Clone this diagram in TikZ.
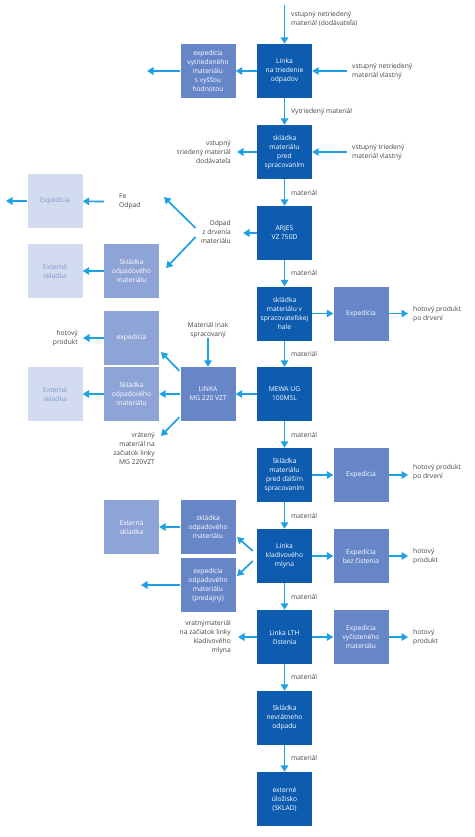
\documentclass[tikz,border=0pt]{standalone}
\usepackage{fontspec}
\setmainfont{Open Sans}
\usetikzlibrary{arrows.meta}
\definecolor{cdark}{RGB}{14,92,176}
\definecolor{cmed}{RGB}{103,134,200}
\definecolor{clight}{RGB}{142,163,214}
\definecolor{cpale}{RGB}{210,219,239}
\definecolor{cpaletext}{RGB}{128,152,205}
\definecolor{carrow}{RGB}{30,160,228}
\definecolor{clbl}{RGB}{70,70,70}
\newcommand{\dfont}{\fontsize{6.7}{9}\selectfont}
\begin{document}
\begin{tikzpicture}[x=1pt,y=-1pt,
  box/.style={rectangle, minimum width=55pt, minimum height=54pt, inner sep=1pt, align=center, font=\dfont},
  dark/.style={box, fill=cdark, text=white},
  med/.style={box, fill=cmed, text=white},
  light/.style={box, fill=clight, text=white},
  pale/.style={box, fill=cpale, text=cpaletext},
  lbl/.style={font=\dfont, text=clbl, inner sep=0pt, align=left},
  lblr/.style={lbl, align=right},
  lblc/.style={lbl, align=center},
  arr/.style={draw=carrow, line width=1.7pt, -{Triangle[length=6.5pt,width=7.5pt]}}]
\useasboundingbox (0,0) rectangle (474,837);
% main column
\node[dark] (lt) at (284.5,71) {Linka\\na triedenie\\odpadov};
\node[dark] (sk1) at (284.5,152) {skládka\\materiálu\\pred\\spracovaním};
\node[dark] (arj) at (284.5,233) {ARJES\\VZ 750D};
\node[dark] (skh) at (284.5,313.5) {skládka\\materiálu v\\spracovateľskej\\hale};
\node[dark] (mewa) at (284.5,394) {MEWA UG\\100MSL};
\node[dark] (skd) at (284.5,475) {Skládka\\materiálu\\pred ďalším\\spracovaním};
\node[dark] (lkm) at (284.5,556) {Linka\\kladivového\\mlyna};
\node[dark] (lth) at (284.5,637) {Linka LTH\\čistenia};
\node[dark] (snv) at (284.5,718) {Skládka\\nevrátneho\\odpadu};
\node[dark] (ext) at (284.5,799) {externé\\úložisko\\(SKLAD)};
% side boxes
\node[med] (exv) at (208,71) {expedícia\\vytriedeného\\materiálu\\s vyššou\\hodnotou};
\node[pale] (expA) at (55,201) {Expedícia};
\node[pale] (extA3) at (55,271) {Externá\\skladka};
\node[light] (skB3) at (131.5,271) {Skládka\\odpadového\\materiálu};
\node[med] (expE4) at (361,313.5) {Expedícia};
\node[light] (expB4) at (131.5,338) {expedícia};
\node[med] (lmg) at (208,394) {LINKA\\MG 220 VZT};
\node[light] (skB5) at (131.5,394) {Skládka\\odpadového\\materiálu};
\node[pale] (extA5) at (55,394) {Externá\\skladka};
\node[med] (expE6) at (361,475) {Expedícia};
\node[light] (extB7) at (131.5,527) {Externá\\skladka};
\node[med] (skC7) at (208,527) {skládka\\odpadového\\materiálu};
\node[med] (expC8) at (208,585) {expedícia\\odpadového\\materiálu\\(predajný)};
\node[med] (ebc) at (361,556) {Expedícia\\bez čistenia};
\node[med] (evm) at (361,637) {Expedícia\\vyčisteného\\materiálu};
% labels
\node[lbl, anchor=west] (l0) at (291,18.5) {vstupný netriedený\\materiál (dodávateľa)};
\node[lbl, anchor=west] (l1) at (352,71) {vstupný netriedený\\materiál vlastný};
\node[lbl, anchor=west] (m1) at (291,112) {Vytriedený materiál};
\node[lblr, anchor=east] (l2) at (231,152) {vstupný\\triedený materiál\\dodávateľa};
\node[lbl, anchor=west] (l3) at (352,152) {vstupný triedený\\materiál vlastný};
\node[lbl, anchor=west] (m2) at (291,193) {materiál};
\node[lblr, anchor=east] (odp) at (231,232) {Odpad\\z drvenia\\materiálu};
\node[lbl, anchor=west] (fe) at (119,201.5) {Fe\\Odpad};
\node[lbl, anchor=west] (m3) at (291,273) {materiál};
\node[lbl, anchor=west] (hp4) at (413,314) {hotový produkt\\po drvení};
\node[lblr, anchor=east] (hpB) at (78,338.5) {hotový\\produkt};
\node[lblc] (inak) at (208,330) {Materiál inak\\spracovaný};
\node[lbl, anchor=west] (m4) at (291,354) {materiál};
\node[lblr, anchor=north east] (vrt) at (155,432) {vrátený\\materiál na\\začiatok linky\\MG 220VZT};
\node[lbl, anchor=west] (m5) at (291,435) {materiál};
\node[lbl, anchor=west] (hp6) at (413,472.5) {hotový produkt\\po drvení};
\node[lbl, anchor=west] (m6) at (291,516) {materiál};
\node[lbl, anchor=west] (hp7) at (413,556.5) {hotový\\produkt};
\node[lbl, anchor=west] (m7) at (291,597) {materiál};
\node[lblr, anchor=east] (vrk) at (231,637) {vratnýmateriál\\na začiatok linky\\kladivového\\mlyna};
\node[lbl, anchor=west] (hp8) at (413,637.5) {hotový\\produkt};
\node[lbl, anchor=west] (m8) at (291,677) {materiál};
\node[lbl, anchor=west] (m9) at (291,758) {materiál};
% free ends
\coordinate (top) at (284.5,5);
\coordinate (fexv) at (147,71);
\coordinate (fexpA) at (6,201);
\coordinate (fd1) at (164,197);
\coordinate (fd2) at (166,268);
\coordinate (fl1) at (161,352);
\coordinate (fl2) at (161,436);
\coordinate (fk1) at (237,537);
\coordinate (fk2) at (237,576);
\coordinate (fexC8) at (141,585);
% main arrows
\draw[arr] (top) -- (lt);
\draw[arr] (lt) -- (sk1);
\draw[arr] (sk1) -- (arj);
\draw[arr] (arj) -- (skh);
\draw[arr] (skh) -- (mewa);
\draw[arr] (mewa) -- (skd);
\draw[arr] (skd) -- (lkm);
\draw[arr] (lkm) -- (lth);
\draw[arr] (lth) -- (snv);
\draw[arr] (snv) -- (ext);
% side arrows
\draw[arr] (lt) -- (exv);
\draw[arr] (exv) -- (fexv);
\draw[arr] ([xshift=-5pt]l1.west) -- (lt);
\draw[arr] (sk1) -- ([xshift=6pt]l2.east |- sk1);
\draw[arr] ([xshift=-5pt]l3.west |- sk1) -- (sk1);
\draw[arr] (arj) -- ([xshift=12pt]odp.east |- arj);
\draw[arr] ([shift={(-5pt,4pt)}]odp.west) -- (fd1);
\draw[arr] ([shift={(-5pt,-5pt)}]odp.west) -- (fd2);
\draw[arr] ([xshift=-15pt]fe.west) -- (expA);
\draw[arr] (expA) -- (fexpA);
\draw[arr] (skB3) -- (extA3);
\draw[arr] (skh) -- (expE4);
\draw[arr] (expE4) -- ([xshift=-5pt]hp4.west |- expE4);
\draw[arr] (expB4) -- ([xshift=5pt]hpB.east |- expB4);
\draw[arr] (inak) -- (lmg);
\draw[arr] (mewa) -- (lmg);
\draw[arr] (lmg) -- (skB5);
\draw[arr] (skB5) -- (extA5);
\draw[arr] ([shift={(-1pt,-4pt)}]lmg.north west) -- (fl1);
\draw[arr] ([shift={(-1pt,4pt)}]lmg.south west) -- (fl2);
\draw[arr] ([shift={(-4pt,5pt)}]lkm.west) -- (fk1);
\draw[arr] ([shift={(-4pt,-5pt)}]lkm.west) -- (fk2);
\draw[arr] (skd) -- (expE6);
\draw[arr] (expE6) -- ([xshift=-5pt]hp6.west |- expE6);
\draw[arr] (skC7) -- (extB7);
\draw[arr] (expC8) -- (fexC8);
\draw[arr] (lkm) -- (ebc);
\draw[arr] (ebc) -- ([xshift=-5pt]hp7.west |- ebc);
\draw[arr] (lth) -- ([xshift=7pt]vrk.east |- lth);
\draw[arr] (lth) -- (evm);
\draw[arr] (evm) -- ([xshift=-5pt]hp8.west |- evm);
\end{tikzpicture}
\end{document}
